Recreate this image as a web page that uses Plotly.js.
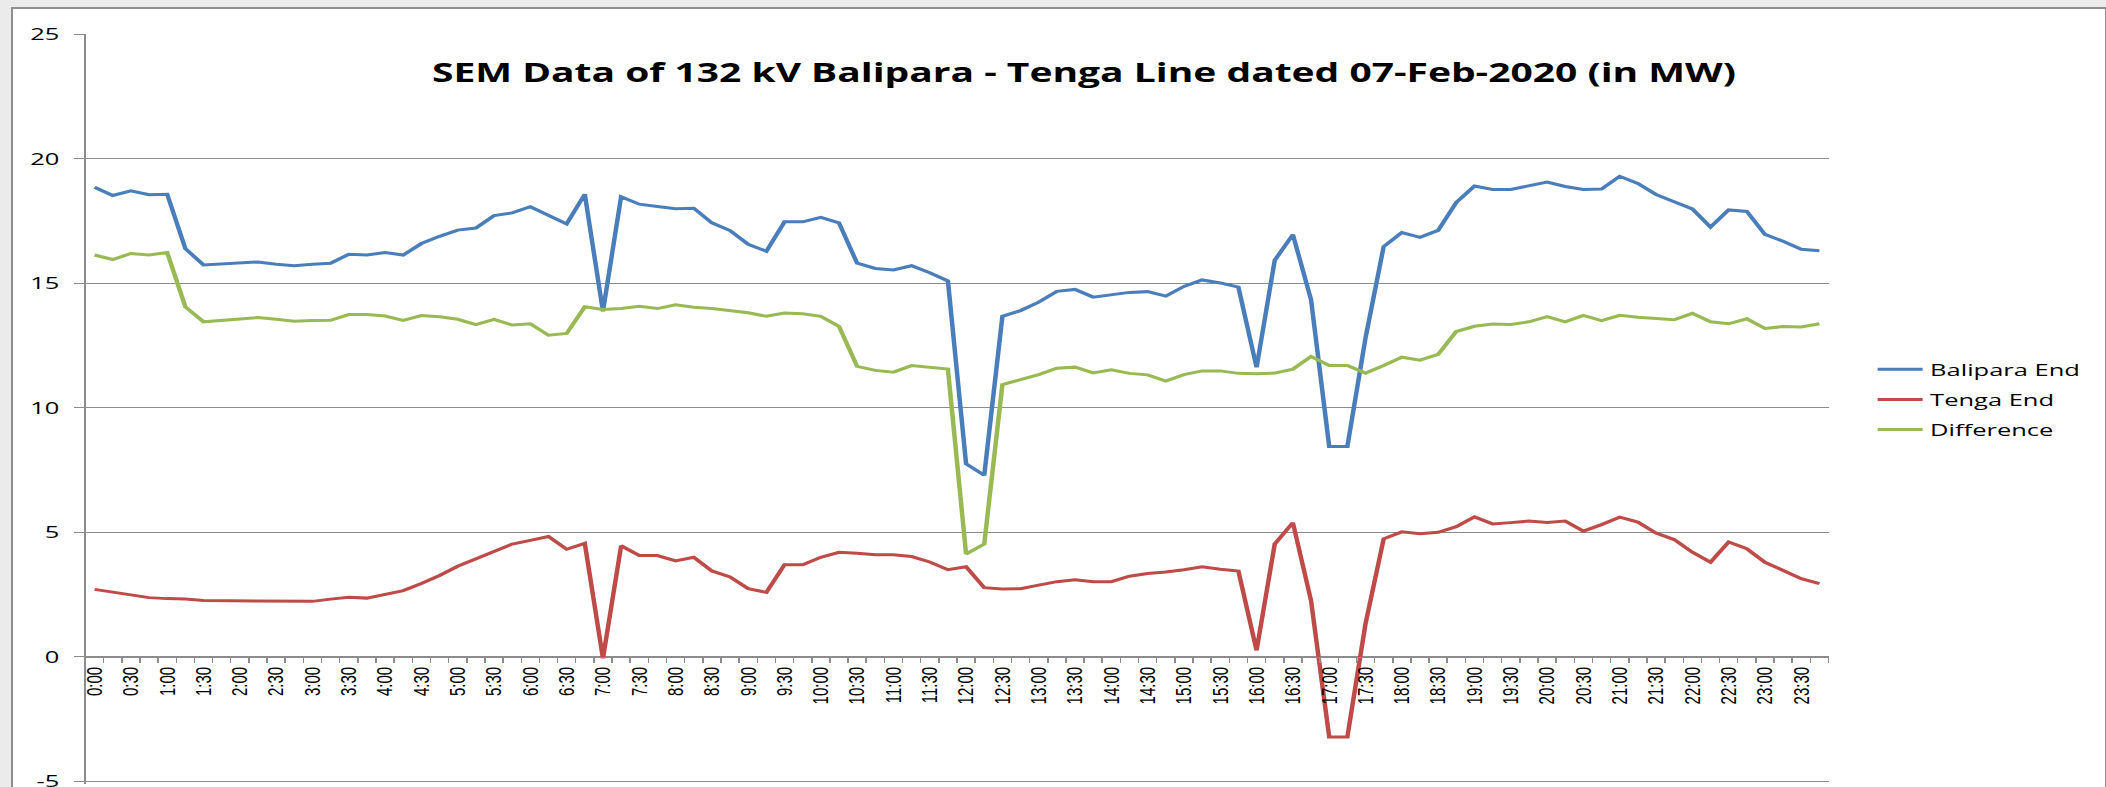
<!DOCTYPE html>
<html>
<head>
<meta charset="utf-8">
<script src="https://cdn.plot.ly/plotly-3.0.1.min.js"></script>
<style>
  html, body { margin: 0; padding: 0; width: 2106px; height: 787px; overflow: hidden; background: #ebebeb; }
  #frame { position: absolute; left: 11px; top: 7px; width: 2092px; height: 800px; background: #ffffff;
           border-left: 2px solid #8e8e8e; border-top: 2px solid #8e8e8e; border-right: 2px solid #8e8e8e; }
  #chart { position: absolute; left: 0; top: 0; width: 1404px; height: 787px;
           transform: scaleX(1.5); transform-origin: 0 0; }
</style>
</head>
<body>
<div id="frame"></div>
<div id="chart"></div>
<script>
// 15-minute time blocks of 07-Feb-2020
const categories = [
  "0:00","0:15","0:30","0:45","1:00","1:15","1:30","1:45","2:00","2:15","2:30","2:45",
  "3:00","3:15","3:30","3:45","4:00","4:15","4:30","4:45","5:00","5:15","5:30","5:45",
  "6:00","6:15","6:30","6:45","7:00","7:15","7:30","7:45","8:00","8:15","8:30","8:45",
  "9:00","9:15","9:30","9:45","10:00","10:15","10:30","10:45","11:00","11:15","11:30","11:45",
  "12:00","12:15","12:30","12:45","13:00","13:15","13:30","13:45","14:00","14:15","14:30","14:45",
  "15:00","15:15","15:30","15:45","16:00","16:15","16:30","16:45","17:00","17:15","17:30","17:45",
  "18:00","18:15","18:30","18:45","19:00","19:15","19:30","19:45","20:00","20:15","20:30","20:45",
  "21:00","21:15","21:30","21:45","22:00","22:15","22:30","22:45","23:00","23:15","23:30","23:45"
];

// Tick labels shown on the axis (every 30 minutes; blank for the quarter-hour ticks)
const tickLabels = [
  "0:00","","0:30","","1:00","","1:30","","2:00","","2:30","",
  "3:00","","3:30","","4:00","","4:30","","5:00","","5:30","",
  "6:00","","6:30","","7:00","","7:30","","8:00","","8:30","",
  "9:00","","9:30","","10:00","","10:30","","11:00","","11:30","",
  "12:00","","12:30","","13:00","","13:30","","14:00","","14:30","",
  "15:00","","15:30","","16:00","","16:30","","17:00","","17:30","",
  "18:00","","18:30","","19:00","","19:30","","20:00","","20:30","",
  "21:00","","21:30","","22:00","","22:30","","23:00","","23:30",""
];

const balipara = [
  18.85, 18.52, 18.71, 18.55, 18.57, 16.39, 15.73, 15.77, 15.80, 15.85, 15.76, 15.70,
  15.76, 15.80, 16.16, 16.13, 16.23, 16.13, 16.59, 16.88, 17.13, 17.21, 17.71, 17.82,
  18.07, 17.74, 17.38, 18.57, 13.87, 18.47, 18.17, 18.08, 17.99, 18.01, 17.42, 17.11,
  16.56, 16.28, 17.46, 17.46, 17.64, 17.42, 15.80, 15.59, 15.53, 15.70, 15.42, 15.09,
  7.75, 7.29, 13.67, 13.90, 14.24, 14.67, 14.75, 14.44, 14.53, 14.63, 14.66, 14.48,
  14.87, 15.13, 15.01, 14.84, 11.62, 15.92, 16.95, 14.34, 8.45, 8.45, 12.80, 16.47,
  17.03, 16.84, 17.12, 18.24, 18.90, 18.76, 18.76, 18.91, 19.06, 18.88, 18.76, 18.78,
  19.29, 19.00, 18.56, 18.27, 17.98, 17.25, 17.94, 17.88, 16.96, 16.68, 16.36, 16.30
];

const tenga = [
  2.71, 2.59, 2.49, 2.38, 2.34, 2.32, 2.26, 2.26, 2.23, 2.23, 2.23, 2.23,
  2.23, 2.32, 2.39, 2.36, 2.52, 2.66, 2.95, 3.27, 3.64, 3.93, 4.24, 4.53,
  4.68, 4.83, 4.32, 4.56, -0.06, 4.46, 4.07, 4.07, 3.85, 4.00, 3.45, 3.21,
  2.74, 2.59, 3.70, 3.70, 4.00, 4.20, 4.16, 4.10, 4.10, 4.03, 3.81, 3.50,
  3.62, 2.78, 2.73, 2.74, 2.88, 3.02, 3.10, 3.02, 3.02, 3.24, 3.35, 3.41,
  3.50, 3.62, 3.52, 3.45, 0.26, 4.53, 5.39, 2.26, -3.21, -3.21, 1.33, 4.74,
  5.02, 4.94, 5.00, 5.23, 5.62, 5.34, 5.39, 5.45, 5.40, 5.45, 5.05, 5.31,
  5.61, 5.41, 4.97, 4.71, 4.20, 3.80, 4.61, 4.34, 3.80, 3.46, 3.14, 2.94
];

const difference = [
  16.13, 15.95, 16.19, 16.13, 16.23, 14.05, 13.45, 13.51, 13.55, 13.62, 13.55, 13.47,
  13.50, 13.51, 13.74, 13.74, 13.68, 13.51, 13.70, 13.65, 13.55, 13.34, 13.55, 13.32,
  13.37, 12.91, 12.98, 14.05, 13.94, 13.98, 14.07, 13.98, 14.13, 14.03, 13.98, 13.91,
  13.81, 13.67, 13.80, 13.77, 13.67, 13.27, 11.66, 11.50, 11.43, 11.69, 11.62, 11.55,
  4.13, 4.53, 10.93, 11.12, 11.33, 11.59, 11.63, 11.40, 11.52, 11.38, 11.32, 11.07,
  11.33, 11.48, 11.48, 11.38, 11.36, 11.39, 11.55, 12.06, 11.70, 11.70, 11.39, 11.70,
  12.03, 11.91, 12.14, 13.06, 13.27, 13.36, 13.34, 13.45, 13.66, 13.45, 13.71, 13.50,
  13.71, 13.63, 13.59, 13.53, 13.79, 13.45, 13.37, 13.57, 13.18, 13.26, 13.24, 13.37
];

const seriesNames = ["Balipara End", "Tenga End", "Difference"];
const seriesColors = ["#4a7ebb", "#be4b48", "#98b954"];
const yTicks = [-5, 0, 5, 10, 15, 20, 25];

const gridColor = "#8c8c8c";
const yMin = -5.1, yMax = 25;

const traces = [balipara, tenga, difference].map((vals, k) => ({
  type: "scatter",
  mode: "lines",
  name: seriesNames[k],
  legendgroup: "g" + k,
  x: categories,
  y: vals,
  line: { color: seriesColors[k], width: 3 },
  hoverinfo: "skip"
}));

const layout = {
  width: 1404,
  height: 787,
  margin: { l: 57, r: 185, t: 34, b: 3, pad: 0 },
  paper_bgcolor: "rgba(0,0,0,0)",
  plot_bgcolor: "rgba(0,0,0,0)",
  title: {
    text: "SEM Data of 132 kV Balipara - Tenga Line dated 07-Feb-2020 (in MW)",
    font: { family: "Open Sans", size: 26, weight: 700, color: "#000000" },
    xref: "container", x: 0.5147, xanchor: "center",
    yref: "container", y: 0.9079, yanchor: "middle"
  },
  showlegend: true,
  legend: {
    xref: "container", x: 0.888, xanchor: "left",
    yref: "container", y: 0.492, yanchor: "middle",
    font: { family: "Open Sans", size: 17, color: "#000000" },
    tracegroupgap: 5,
    traceorder: "grouped",
    bgcolor: "rgba(0,0,0,0)"
  },
  xaxis: {
    type: "category",
    range: [-0.5, 95.5],
    anchor: "free",
    position: (0 - yMin) / (yMax - yMin),
    showline: true, linecolor: gridColor, linewidth: 1,
    showgrid: false, zeroline: false,
    ticks: "outside", ticklen: 5, tickcolor: gridColor, tickwidth: 1,
    tickson: "boundaries",
    tickmode: "array", tickvals: categories, ticktext: tickLabels,
    tickangle: -90,
    tickfont: { family: "Liberation Sans", size: 15, color: "#000000" },
    ticklabelstandoff: 3,
    ticklabeloverflow: "allow",
    fixedrange: true
  },
  yaxis: {
    range: [yMin, yMax],
    tickmode: "array", tickvals: yTicks, ticktext: yTicks.map(String),
    showgrid: true, gridcolor: gridColor, gridwidth: 1,
    zeroline: false,
    showline: true, linecolor: gridColor, linewidth: 1,
    ticks: "outside", ticklen: 7, tickcolor: gridColor, tickwidth: 1,
    tickfont: { family: "Open Sans", size: 17, color: "#000000" },
    ticklabelstandoff: 6,
    ticklabeloverflow: "allow",
    fixedrange: true
  }
};

Plotly.newPlot("chart", traces, layout, { displayModeBar: false, staticPlot: true });
</script>
</body>
</html>
